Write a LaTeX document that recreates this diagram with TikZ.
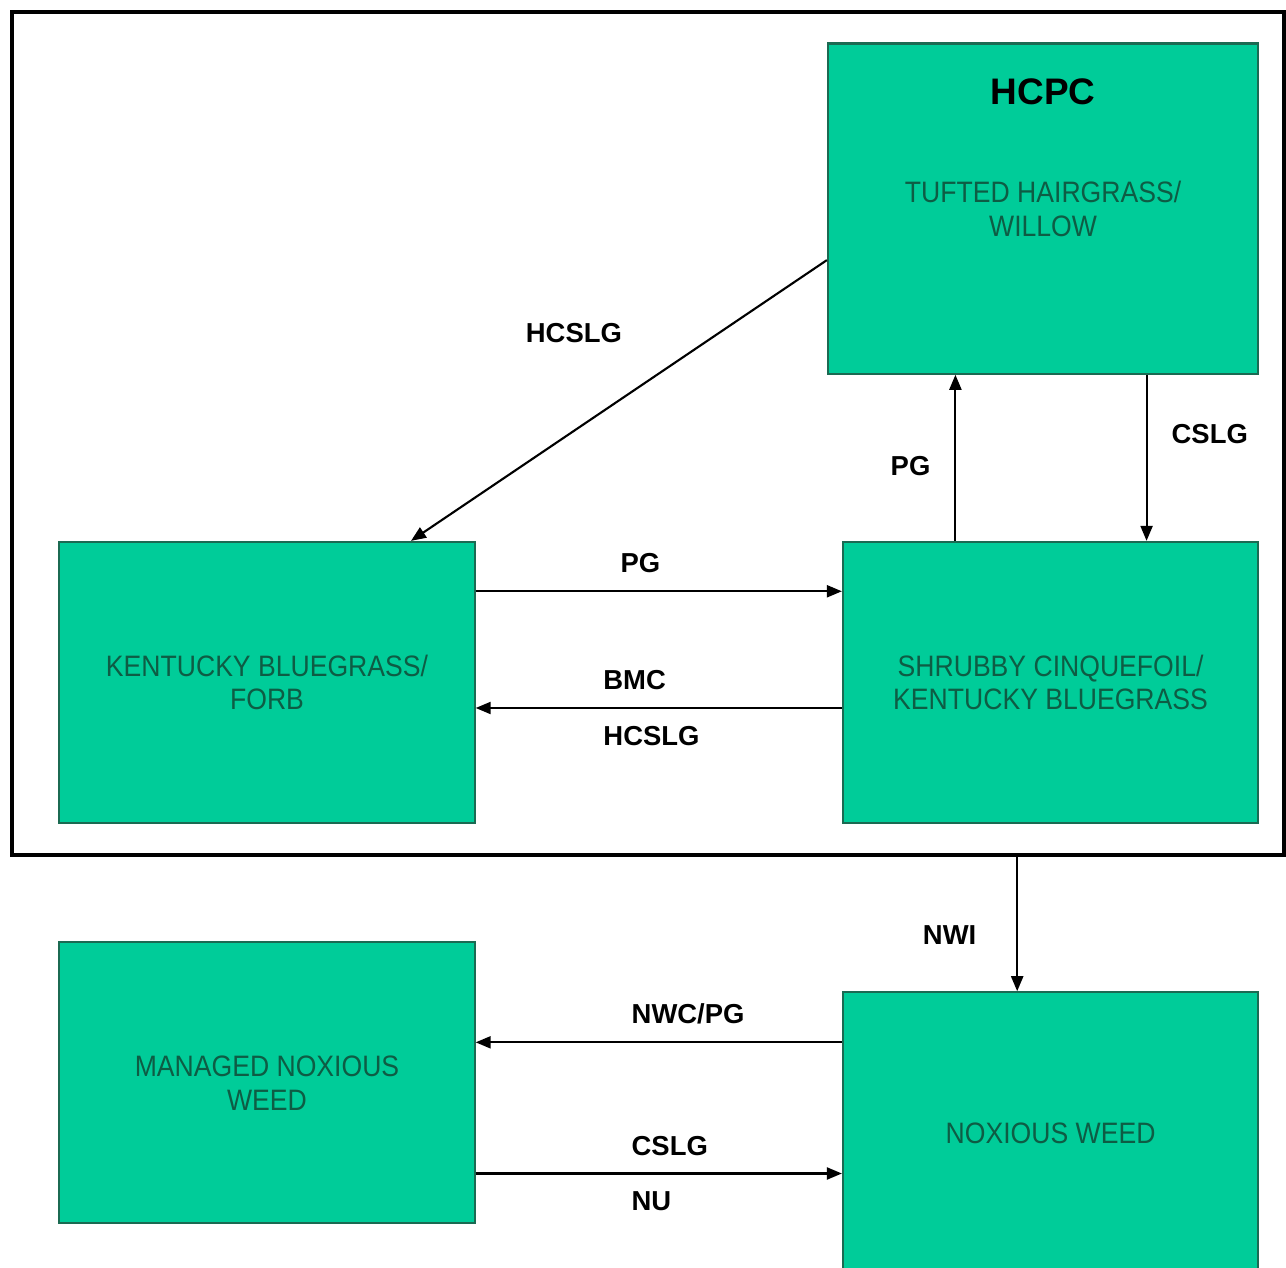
\documentclass[tikz,border=0pt]{standalone}
\usepackage{fontspec}
\setmainfont{Liberation Sans}
\newfontfamily\boxfont[FakeStretch=0.9]{Liberation Sans}
\usetikzlibrary{arrows.meta,positioning,calc}
\definecolor{sea}{HTML}{00CC99}
\definecolor{seadark}{HTML}{1B6A52}
\definecolor{seatext}{HTML}{0E5C44}

\begin{document}
\begin{tikzpicture}[x=0.01cm,y=-0.01cm,
  st/.style={draw=seadark,fill=sea,line width=0.6pt,text=seatext,align=center,
             font=\boxfont\fontsize{8.4}{9.6}\selectfont,inner sep=0pt,
             minimum width=4.15cm,minimum height=2.81cm},
  frm/.style={draw=black,line width=1.2pt,minimum width=12.72cm,minimum height=8.43cm},
  ttl/.style={font=\bfseries\fontsize{10.5}{12}\selectfont},
  lbl/.style={font=\bfseries\fontsize{7.8}{9}\selectfont},
  ar/.style={-{Triangle[length=1.5mm,width=1.2mm]},line width=0.6pt}]
\useasboundingbox (0,0) rectangle (1286,1268);
\node[frm] (frame) at (648,433.5) {};
\node[st] (kb) at (267,682.5) {KENTUCKY BLUEGRASS/\\FORB};
\node[st,right=3.66cm of kb] (sc) {SHRUBBY CINQUEFOIL/\\KENTUCKY BLUEGRASS};
\node[st,minimum width=4.3cm,minimum height=3.3cm,above=1.66cm of sc.north east,anchor=south east] (hcpc) {TUFTED HAIRGRASS/\\WILLOW};
\node[ttl] (hcpct) at ($(hcpc.north)+(0,49)$) {HCPC};
\node[st,below=1.17cm of kb] (mnw) {MANAGED NOXIOUS\\WEED};
\node[st,minimum height=2.82cm,below=1.67cm of sc.south east,anchor=north east] (nw) {NOXIOUS WEED};
\coordinate (d1) at ($(hcpc.north west)!0.655!(hcpc.south west)$);
\coordinate (d2) at ($(kb.north west)!0.845!(kb.north east)$);
\coordinate (u1) at ($(sc.north west)!0.272!(sc.north east)$);
\coordinate (c1) at ($(sc.north west)!0.73!(sc.north east)$);
\coordinate (p1) at ($(kb.north east)!0.178!(kb.south east)$);
\coordinate (b1) at ($(kb.north east)!0.59!(kb.south east)$);
\coordinate (n1) at ($(nw.north west)!0.42!(nw.north east)$);
\coordinate (w1) at ($(mnw.north east)!0.357!(mnw.south east)$);
\coordinate (w2) at ($(mnw.north east)!0.82!(mnw.south east)$);
\draw[ar] (d1) -- node[lbl,xshift=-0.45cm,yshift=0.67cm]{HCSLG} (d2);
\draw[ar] (u1) -- node[lbl,pos=0.45,left=3.5pt]{PG} (u1 |- hcpc.south);
\draw[ar] (c1 |- hcpc.south) -- node[lbl,pos=0.36,right=3.5pt]{CSLG} (c1);
\draw[ar] (p1) -- node[lbl,pos=0.45,above=1.5pt]{PG} (p1 -| sc.west);
\draw[ar] (b1 -| sc.west) -- node[lbl,pos=0.566,above=1.5pt]{BMC} node[lbl,pos=0.52,below=1.5pt]{HCSLG} (b1);
\draw[ar] (frame.south -| n1) -- node[lbl,pos=0.58,left=8pt]{NWI} (n1);
\draw[ar] (w1 -| nw.west) -- node[lbl,pos=0.42,above=1.5pt]{NWC/PG} (w1);
\draw[ar] (w2) -- node[lbl,pos=0.53,above=1.5pt]{CSLG} node[lbl,pos=0.48,below=1.5pt]{NU} (w2 -| nw.west);
\end{tikzpicture}
\end{document}
